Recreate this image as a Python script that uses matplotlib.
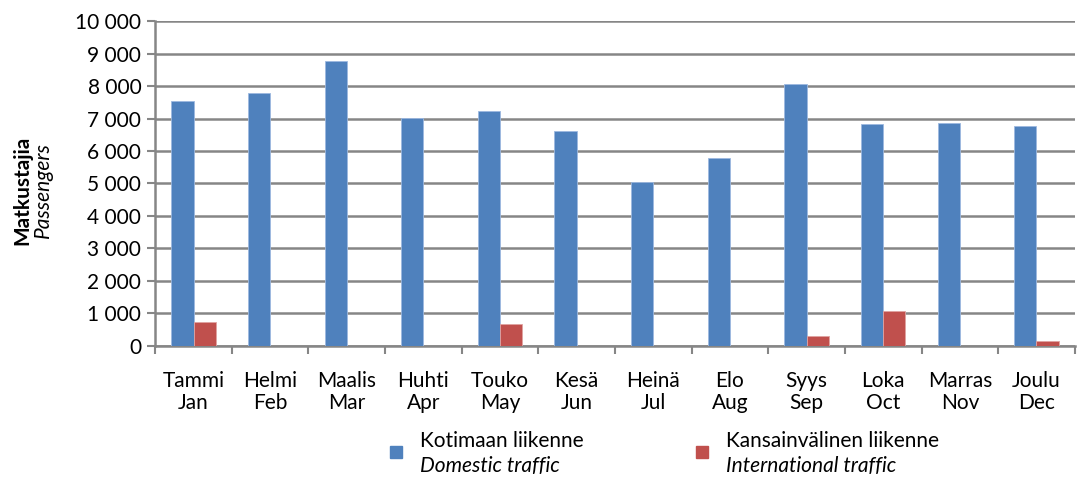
import matplotlib.pyplot as plt
import numpy as np
from matplotlib.patches import Rectangle

months_fi = ["Tammi", "Helmi", "Maalis", "Huhti", "Touko", "Kesä",
             "Heinä", "Elo", "Syys", "Loka", "Marras", "Joulu"]
months_en = ["Jan", "Feb", "Mar", "Apr", "May", "Jun",
             "Jul", "Aug", "Sep", "Oct", "Nov", "Dec"]
domestic = [7530, 7800, 8760, 7020, 7230, 6620, 5050, 5780, 8060, 6830, 6860, 6760]
international = [730, 0, 0, 0, 660, 0, 0, 0, 300, 1070, 0, 160]

plt.rcParams['font.family'] = ['Lato', 'DejaVu Sans']
blue = "#4F81BD"
red = "#C0504D"
grid = "#868686"
fs = 15

fig = plt.figure(figsize=(10.78, 4.79), dpi=100)
ax = fig.add_axes([0.144, 0.278, 0.853, 0.678])

x = np.arange(12)
w = 0.29
ax.bar(x - w / 2, domestic, w, color=blue, edgecolor="#9DB9E0", linewidth=0.6, zorder=3)
ax.bar(x + w / 2, international, w, color=red, edgecolor="#E0A3A1", linewidth=0.6, zorder=3)

ax.set_xlim(-0.5, 11.5)
ax.set_ylim(0, 10000)
ax.set_yticks(range(0, 10001, 1000))
ax.set_yticklabels([f"{v:,}".replace(",", " ") for v in range(0, 10001, 1000)], fontsize=fs)
ax.yaxis.grid(True, color=grid, linewidth=1.8, zorder=0)

ax.set_xticks(np.arange(-0.5, 12, 1))
ax.set_xticklabels([])
ax.set_xticks(x, minor=True)
ax.set_xticklabels([f"{a}\n{b}" for a, b in zip(months_fi, months_en)], minor=True,
                   fontsize=fs, linespacing=1.15)
ax.tick_params(axis="x", which="major", length=6, width=1.5, color=grid)
ax.tick_params(axis="x", which="minor", length=0, pad=18)
ax.tick_params(axis="y", length=6, width=1.5, color=grid, pad=4)

for s in ["top", "right"]:
    ax.spines[s].set_visible(False)
for s in ["left", "bottom"]:
    ax.spines[s].set_color(grid)
    ax.spines[s].set_linewidth(1.8)

fig.text(0.021, 0.603, "Matkustajia", rotation=90, fontsize=fs, fontweight="bold",
         ha="center", va="center")
fig.text(0.040, 0.603, "Passengers", rotation=90, fontsize=fs, style="italic",
         ha="center", va="center")

# legend
entries = [(blue, "Kotimaan liikenne", "Domestic traffic", 390 / 1078),
           (red, "Kansainvälinen liikenne", "International traffic", 696 / 1078)]
for col, l1, l2, xs in entries:
    fig.add_artist(Rectangle((xs, 1 - 458 / 479), 12 / 1078, 12 / 479,
                             transform=fig.transFigure, color=col))
    fig.text(xs + 30 / 1078, 1 - 441 / 479, l1, fontsize=fs, va="center")
    fig.text(xs + 30 / 1078, 1 - 466 / 479, l2, fontsize=fs, va="center", style="italic")

fig.savefig("out.png", dpi=100)
